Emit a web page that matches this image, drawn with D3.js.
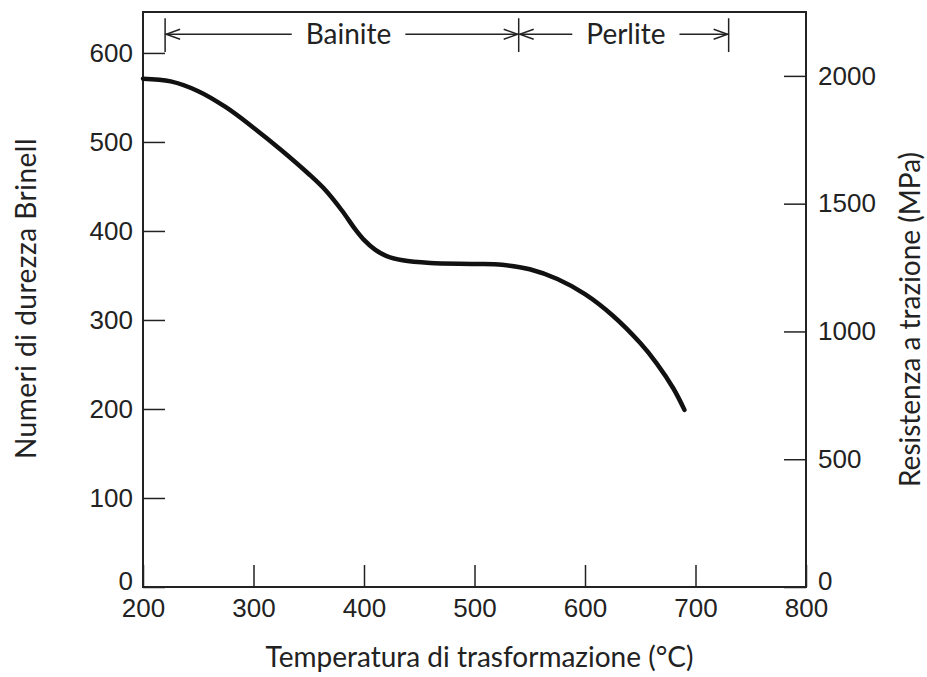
<!DOCTYPE html>
<html>
<head>
<meta charset="utf-8">
<script src="https://d3js.org/d3.v7.min.js"></script>
<style>
  body { margin: 0; background: #fff; }
  .tick text { font-family: "Liberation Sans", Arial, sans-serif; font-size: 26px; fill: #222; }
  .title { font-family: Lato, sans-serif; font-size: 28px; fill: #222; }
</style>
</head>
<body>
<div class="center"></div>
<script>
// curve: Brinell hardness vs transformation temperature
const temps    = [200, 225, 250, 275, 300, 325, 350, 365, 380, 392, 400, 410, 420, 435, 460, 500, 525, 550, 575, 600, 625, 650, 665, 680, 690];
const hardness = [571, 568, 557, 539, 516, 491, 464, 446, 423, 402, 390, 379, 372, 367, 364, 363, 362, 357, 346, 329, 305, 274, 251, 223, 199];

const xTicks = [200, 300, 400, 500, 600, 700, 800];
const yTicks = [0, 100, 200, 300, 400, 500, 600];
const mpaTicks = [0, 500, 1000, 1500, 2000];

// phase ranges drawn as arrows on top (labelAt = where the word sits)
const phases = [
  {name: "Bainite", from: 220, to: 540, labelAt: 386},
  {name: "Perlite", from: 540, to: 730, labelAt: 637}
];

const margin = {top: 12, right: 121, bottom: 90, left: 143};
const width = 927 - margin.left - margin.right;
const height = 677 - margin.top - margin.bottom;

const xScale = d3.scaleLinear().domain([200, 800]).range([0, width]);
const yScale = d3.scaleLinear().domain([0, 646]).range([height, 0]);
const y2Scale = d3.scaleLinear().domain([0, 2250]).range([height, 0]);

const svg = d3.select(".center").append("svg")
    .attr("width", width + margin.left + margin.right)
    .attr("height", height + margin.top + margin.bottom)
  .append("g")
    .attr("transform", `translate(${margin.left},${margin.top})`);

// axes, ticks pointing inward
const xAxis = d3.axisBottom(xScale).tickValues(xTicks).tickSizeInner(-22).tickSizeOuter(0).tickPadding(12);
svg.append("g").attr("transform", `translate(0,${height})`).call(xAxis);

const yAxis = d3.axisLeft(yScale).tickValues(yTicks).tickSizeInner(-22).tickSizeOuter(0).tickPadding(10);
svg.append("g").call(yAxis);

const y2Axis = d3.axisRight(y2Scale).tickValues(mpaTicks).tickSizeInner(-22).tickSizeOuter(0)
    .tickPadding(12).tickFormat(d3.format("d"));
svg.append("g").attr("transform", `translate(${width},0)`).call(y2Axis);

svg.selectAll(".domain").remove();
svg.selectAll(".tick line").attr("stroke", "#222").attr("stroke-width", 1.5);

// zero labels sit a little above the bottom edge
svg.selectAll(".tick text").filter(d => d === 0).attr("dy", "0.1em");

// frame
svg.append("rect")
   .attr("width", width).attr("height", height)
   .attr("fill", "none").attr("stroke", "#222").attr("stroke-width", 2);

// the curve
const line = d3.line()
    .x((d, i) => xScale(temps[i]))
    .y(d => yScale(d))
    .curve(d3.curveCatmullRom.alpha(0.5));

svg.append("path")
   .datum(hardness)
   .attr("d", line)
   .attr("fill", "none")
   .attr("stroke", "#111")
   .attr("stroke-width", 4.5)
   .attr("stroke-linecap", "round");

// phase arrows
const arrowY = yScale(621);
const bounds = [220, 540, 730];
svg.selectAll(".bound")
   .data(bounds)
   .enter().append("line")
   .attr("x1", d => xScale(d)).attr("x2", d => xScale(d))
   .attr("y1", yScale(639)).attr("y2", yScale(601))
   .attr("stroke", "#222").attr("stroke-width", 1.5);

function arrowHead(g, x, dir) {
  // open chevron pointing in dir (-1 left, +1 right)
  g.append("path")
   .attr("d", `M${x - dir * 14},${arrowY - 5}L${x},${arrowY}L${x - dir * 14},${arrowY + 5}`)
   .attr("fill", "none").attr("stroke", "#222").attr("stroke-width", 1.4);
}

phases.forEach(p => {
  const x0 = xScale(p.from) + 1, x1 = xScale(p.to) - 1;
  const xm = xScale(p.labelAt);
  const t = svg.append("text")
     .attr("class", "title")
     .attr("x", xm).attr("y", arrowY)
     .attr("dy", "0.35em")
     .attr("text-anchor", "middle")
     .text(p.name);
  const half = t.node().getComputedTextLength() / 2 + 14;
  svg.append("line").attr("x1", x0).attr("x2", xm - half)
     .attr("y1", arrowY).attr("y2", arrowY)
     .attr("stroke", "#222").attr("stroke-width", 1.3);
  svg.append("line").attr("x1", xm + half).attr("x2", x1)
     .attr("y1", arrowY).attr("y2", arrowY)
     .attr("stroke", "#222").attr("stroke-width", 1.3);
  arrowHead(svg, x0, -1);
  arrowHead(svg, x1, 1);
});

// axis titles
svg.append("text")
   .attr("class", "title")
   .attr("x", width / 2 + 5)
   .attr("y", height + 80)
   .attr("text-anchor", "middle")
   .text("Temperatura di trasformazione (°C)");

svg.append("text")
   .attr("class", "title")
   .attr("transform", `translate(${-107},${height / 2 - 1}) rotate(-90)`)
   .attr("text-anchor", "middle")
   .style("letter-spacing", "0.5px")
   .text("Numeri di durezza Brinell");

svg.append("text")
   .attr("class", "title")
   .attr("transform", `translate(${width + 114},${height / 2 + 20}) rotate(-90)`)
   .attr("text-anchor", "middle")
   .text("Resistenza a trazione (MPa)");
</script>
</body>
</html>
